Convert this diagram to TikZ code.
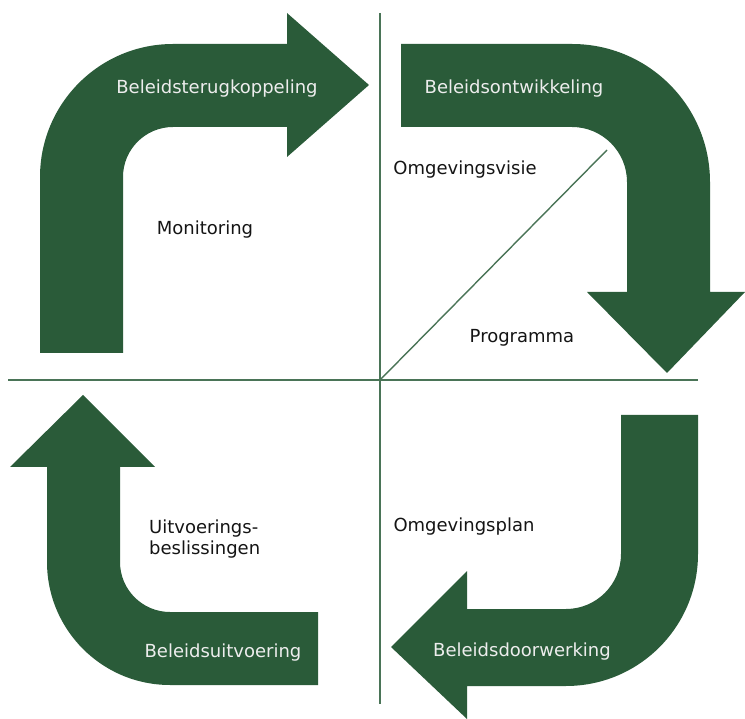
\documentclass[tikz,border=0pt]{standalone}
\usepackage{fontspec}
\setmainfont{DejaVu Sans}
\definecolor{beleidgroen}{HTML}{2A5B39}

\begin{document}
\begin{tikzpicture}[
    x=1pt,
    y=1pt,
    every node/.style={font=\fontsize{18}{21}\selectfont, inner sep=0pt},
    band/.style={fill=beleidgroen},
    axis/.style={draw=beleidgroen!85, line width=1.4pt},
    onband/.style={text=white!93!black},
    phase/.style={text=black!92}
  ]
    % Canvas in pixel units, origin at the top left corner.
    \useasboundingbox (0,0) rectangle (745,-719);

    % Axes and the diagonal of the upper right quadrant.
    \coordinate (centre) at (380,-380);
    \coordinate (axtop) at (380,-13);
    \coordinate (axbottom) at (380,-704);
    \coordinate (axleft) at (8,-380);
    \coordinate (axright) at (698,-380);
    \coordinate (diagend) at (607,-150);
    \draw[axis] (axtop) -- (axbottom);
    \draw[axis] (axleft) -- (axright);
    \draw[axis] (centre) -- (diagend);

    % Upper left: up, then right.
    \fill[band] (40,-353) -- (40,-177)
      arc[start angle=180, end angle=90, radius=133] -- (287,-44)
      -- (287,-13) -- (369,-85) -- (287,-157) -- (287,-127) -- (173,-127)
      arc[start angle=90, end angle=180, radius=50] -- (123,-353) -- cycle;

    % Upper right: right, then down.
    \fill[band] (401,-44) -- (572,-44)
      arc[start angle=90, end angle=0, radius=138] -- (710,-292)
      -- (745,-292) -- (667,-373) -- (587,-292) -- (627,-292) -- (627,-182)
      arc[start angle=0, end angle=90, radius=55] -- (401,-127) -- cycle;

    % Lower right: down, then left.
    \fill[band] (621,-415) -- (698,-415) -- (698,-554)
      arc[start angle=0, end angle=-90, radius=132] -- (467,-686)
      -- (467,-719) -- (391,-647) -- (467,-571) -- (467,-609) -- (566,-609)
      arc[start angle=-90, end angle=0, radius=55] -- cycle;

    % Lower left: left, then up.
    \fill[band] (318,-685) -- (170,-685)
      arc[start angle=270, end angle=180, radius=123] -- (47,-467)
      -- (10,-467) -- (83,-395) -- (155,-467) -- (120,-467) -- (120,-562)
      arc[start angle=180, end angle=270, radius=50] -- (318,-612) -- cycle;

    % Names of the four phases on the bands.
    \node[onband] (terug) at (217,-89) {Beleidsterugkoppeling};
    \node[onband] (ontw) at (514,-89) {Beleidsontwikkeling};
    \node[onband] (doorw) at (522,-652) {Beleidsdoorwerking};
    \node[onband] (uitv) at (223,-653) {Beleidsuitvoering};

    % Instruments inside the quadrants.
    \node[phase] (monitoring) at (205,-230) {Monitoring};
    \node[phase] (visie) at (465,-170) {Omgevingsvisie};
    \node[phase] (programma) at (522,-338) {Programma};
    \node[phase] (plan) at (464,-527) {Omgevingsplan};
    \node[phase, align=left, anchor=west] (besluit) at (149,-539)
      {Uitvoerings-\\beslissingen};
  \end{tikzpicture}
\end{document}
